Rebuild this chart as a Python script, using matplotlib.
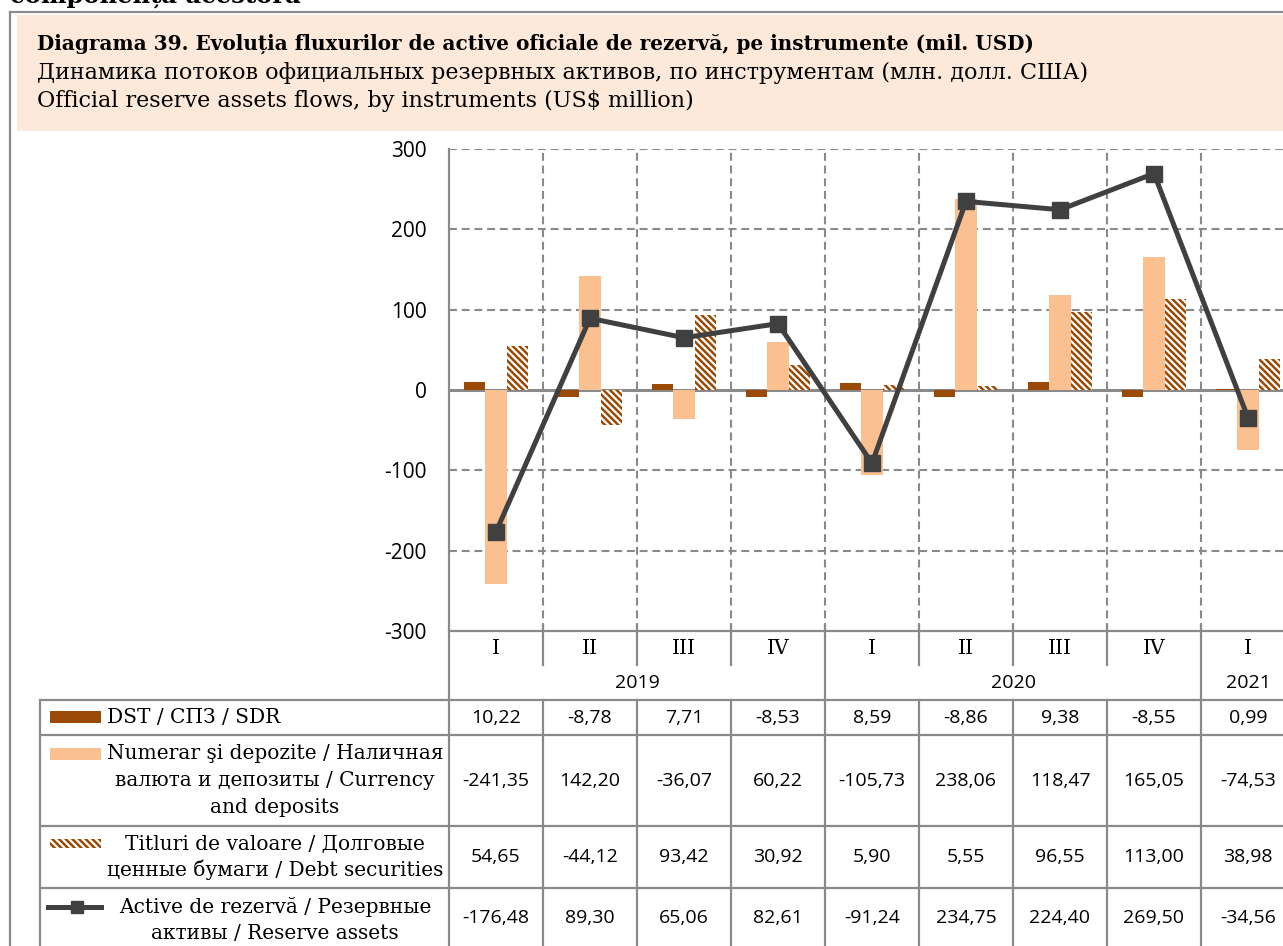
import numpy as np
import matplotlib
matplotlib.use('Agg')
import matplotlib.pyplot as plt
from matplotlib.patches import Rectangle
from matplotlib.lines import Line2D

plt.rcParams.update({
    'hatch.linewidth': 1.8,
    'lines.scale_dashes': True,
})

SERIF = 'DejaVu Serif'
SANS = 'Open Sans'
HATCH = chr(92) * 5  # dense "\" stripes

# quarterly flows, mil. USD
quarters = ['I', 'II', 'III', 'IV', 'I', 'II', 'III', 'IV', 'I']
years = ['2019', '2020', '2021']
year_spans = [4, 4, 1]
sdr = [10.22, -8.78, 7.71, -8.53, 8.59, -8.86, 9.38, -8.55, 0.99]
currency = [-241.35, 142.20, -36.07, 60.22, -105.73, 238.06, 118.47, 165.05, -74.53]
securities = [54.65, -44.12, 93.42, 30.92, 5.90, 5.55, 96.55, 113.00, 38.98]
reserves = [-176.48, 89.30, 65.06, 82.61, -91.24, 234.75, 224.40, 269.50, -34.56]

title_lines = [
    'Diagrama 39. Evoluția fluxurilor de active oficiale de rezervă, pe instrumente (mil. USD)',
    'Динамика потоков официальных резервных активов, по инструментам (млн. долл. США)',
    'Official reserve assets flows, by instruments (US$ million)',
]
row_labels = [
    ['DST / СПЗ / SDR'],
    ['Numerar şi depozite / Наличная', 'валюта и депозиты / Currency', 'and deposits'],
    ['Titluri de valoare / Долговые', 'ценные бумаги / Debt securities'],
    ['Active de rezervă / Резервные', 'активы / Reserve assets'],
]

BROWN = '#9A4A05'
PEACH = '#FAC090'
LINE = '#404040'
GRID = '#8A8A8A'
TITLE_BG = '#FDE9D9'

W, H = 1283, 946
fig = plt.figure(figsize=(W / 100, H / 100), dpi=100)

# pixel-space overlay for frame, title and table
ov = fig.add_axes([0, 0, 1, 1])
ov.set_xlim(0, W)
ov.set_ylim(H, 0)
ov.axis('off')
ov.set_zorder(0)

# chart area geometry (pixels)
X0, COL = 449, 94.0
Y_TOP, Y_BOT = 149, 631
n = len(quarters)
x_right = X0 + COL * n

ax = fig.add_axes([X0 / W, 1 - Y_BOT / H, (x_right - X0) / W, (Y_BOT - Y_TOP) / H])
ax.set_zorder(2)
ax.patch.set_alpha(0)

x = np.arange(n)
bw = 0.225
for y in [-200, -100, 100, 200, 300]:
    ax.axhline(y, color=GRID, lw=1.5, ls=(0, (3.8, 2.3)), zorder=0)
for i in range(n):
    ax.axvline(i + 0.5, color=GRID, lw=1.5, ls=(0, (3.8, 2.3)), zorder=0)
ax.axhline(0, color=GRID, lw=2.2, zorder=1)

ax.bar(x - bw, sdr, bw, color=BROWN, zorder=2)
ax.bar(x, currency, bw, color=PEACH, zorder=2)
ax.bar(x + bw, securities, bw, facecolor='white', edgecolor=BROWN,
       hatch=HATCH, lw=0, zorder=2)
ax.plot(x, reserves, color=LINE, lw=3.6, marker='s', ms=11, zorder=3)

ax.set_xlim(-0.5, n - 0.5)
ax.set_ylim(-300, 300)
ax.set_yticks(range(-300, 301, 100))
ax.set_yticklabels([str(v) for v in range(-300, 301, 100)], fontfamily=SANS, fontsize=15)
ax.tick_params(axis='y', length=0, pad=16)
ax.set_xticks([])
for s in ax.spines.values():
    s.set_visible(False)


def hline(y, x1, x2, lw=1.6):
    ov.add_line(Line2D([x1, x2], [y, y], color=GRID, lw=lw))


def vline(xp, y1, y2, lw=1.6):
    ov.add_line(Line2D([xp, xp], [y1, y2], color=GRID, lw=lw))


# outer frame and title box
vline(10, 12, H + 5)
hline(12, 10, W + 5)
ov.add_patch(Rectangle((17, 15), W - 17 + 5, 116, facecolor=TITLE_BG, edgecolor='none'))
ov.text(10, 3, 'componența acestora', fontfamily=SERIF, fontweight='bold',
        fontsize=17.5, va='baseline', ha='left')
for i, t in enumerate(title_lines):
    ov.text(37, 44 + 28.5 * i, t, fontfamily=SERIF,
            fontsize=14.4 if i == 0 else 16,
            fontweight='bold' if i == 0 else 'normal', va='center', ha='left')

# axis lines and table grid
ROWS = [700, 735, 826, 888, H + 40]
bounds = [X0 + COL * i for i in range(n + 1)]
year_edges = np.cumsum([0] + year_spans)
vline(X0, Y_TOP, H + 5)
hline(Y_BOT, X0, W + 5)
for y in ROWS[:-1]:
    hline(y, 40, W + 5)
vline(40, ROWS[0], H + 5)
for i, b in enumerate(bounds[1:], start=1):
    if i in year_edges:
        vline(b, Y_BOT - 6, H + 5)
    else:
        vline(b, Y_BOT - 6, 665)
        vline(b, ROWS[0], H + 5)

for i, q in enumerate(quarters):
    ov.text(X0 + COL * (i + 0.5), 648, q, fontfamily=SERIF, fontsize=14.5,
            ha='center', va='center')
for k, yr in enumerate(years):
    cx = X0 + COL * (year_edges[k] + year_edges[k + 1]) / 2
    ov.text(cx, 683, yr, fontfamily=SANS, fontsize=14, ha='center', va='center')

# data rows
series = [sdr, currency, securities, reserves]
row_centers = [717.5, 780.5, 857, 918]
for vals, yc in zip(series, row_centers):
    for i, v in enumerate(vals):
        ov.text(X0 + COL * (i + 0.5), yc, f'{v:.2f}'.replace('.', ','),
                fontfamily=SANS, fontsize=14, ha='center', va='center')

# row labels with legend keys
ov.text(107, 717, row_labels[0][0], fontfamily=SERIF, fontsize=14.5, ha='left', va='center')
for lines, ys in zip(row_labels[1:], [[753, 780, 807], [844, 870], [907, 933]]):
    for t, yy in zip(lines, ys):
        ov.text(275, yy, t, fontfamily=SERIF, fontsize=14.5, ha='center', va='center')

ov.add_patch(Rectangle((50, 711), 51, 12, facecolor=BROWN, edgecolor='none'))
ov.add_patch(Rectangle((50, 748), 51, 12, facecolor=PEACH, edgecolor='none'))
ov.add_patch(Rectangle((50, 839), 51, 9, facecolor='white', edgecolor=BROWN,
                       hatch=HATCH, lw=0))
ov.add_line(Line2D([48, 101], [907, 907], color=LINE, lw=3.6))
ov.add_line(Line2D([77], [907], color=LINE, marker='s', ms=8, lw=0))

fig.savefig('out.png', dpi=100)
